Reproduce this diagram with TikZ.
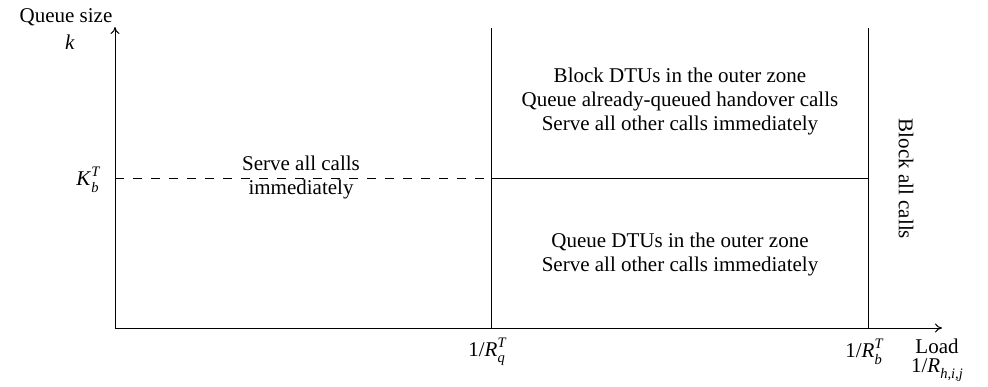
\documentclass[tikz,border=0pt]{standalone}
\usepackage{fontspec}
\setmainfont{Liberation Serif}
\usetikzlibrary{arrows.meta}
\newcommand{\vi}[1]{\textit{#1}}
\newcommand{\scr}{\fontsize{14.5}{14.5}\selectfont}
\newcommand{\supsub}[2]{\rlap{\raisebox{0.42em}{\scr\textit{#1}}}\raisebox{-0.32em}{\scr\textit{#2}}\hphantom{\scr\textit{#1}}\llap{}}
\newcommand{\subonly}[1]{\raisebox{-0.32em}{\scr\textit{#1}}}
\begin{document}
\begin{tikzpicture}[x=1pt,y=-1pt,
  lbl/.style={font=\fontsize{21}{24}\selectfont, align=center, inner sep=0pt},
  ln/.style={line width=1pt},
  ax/.style={line width=1pt,-{To[length=7pt,width=9pt]}}]
\useasboundingbox (0,0) rectangle (988,386);
\coordinate (O) at (115,328);
\coordinate (Ytop) at (115,27);
\coordinate (Xend) at (942,328);
\coordinate (Qtop) at (491,28);
\coordinate (Qbot) at (491,328);
\coordinate (Btop) at (868,28);
\coordinate (Bbot) at (868,328);
\coordinate (Kl) at (115,178);
\coordinate (Km) at (491,178);
\coordinate (Kr) at (868,178);
\draw[ax] (O) -- (Ytop);
\draw[ax] (O) -- (Xend);
\draw[ln] (Qbot) -- (Qtop);
\draw[ln] (Bbot) -- (Btop);
\draw[ln] (Km) -- (Kr);
\draw[ln, dash pattern=on 9pt off 9pt] (Kl) -- (Km);
\node[lbl] (qs) at (66,17) {Queue size};
\node[lbl] (k) at (70,42) {\vi{k}};
\node[lbl] (kb) at (92,180) {\vi{K}\supsub{T}{b}};
\node[lbl] (serve) at (301,177) {Serve all calls\\immediately};
\node[lbl] (up) at (680,101) {Block DTUs in the outer zone\\Queue already-queued handover calls\\Serve all other calls immediately};
\node[lbl] (low) at (680,254) {Queue DTUs in the outer zone\\Serve all other calls immediately};
\node[lbl, rotate=-90] (blk) at (906,179) {Block all calls};
\node[lbl] (rq) at (491,352) {1/\vi{R}\supsub{T}{q}};
\node[lbl] (rb) at (868,352) {1/\vi{R}\supsub{T}{b}};
\node[lbl] (load) at (937,346) {Load};
\node[lbl] (rh) at (937,370) {1/\vi{R}\subonly{h,i,j}};
\end{tikzpicture}
\end{document}
